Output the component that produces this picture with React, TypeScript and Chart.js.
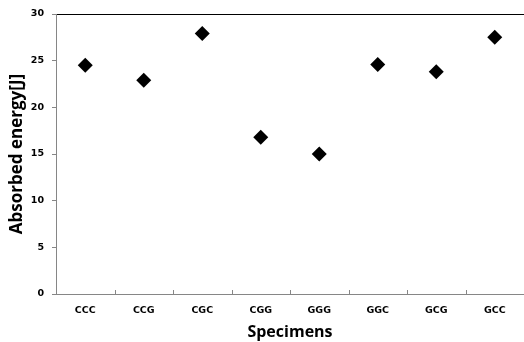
import React, { useEffect, useRef } from "react";
import { Chart, registerables } from "chart.js";

Chart.register(...registerables);

const categories = ["CCC", "CCG", "CGC", "CGG", "GGG", "GGC", "GCG", "GCC"];
const absorbedEnergy = [24.5, 22.9, 27.9, 16.8, 15.0, 24.6, 23.8, 27.5];
const yTicks = [0, 5, 10, 15, 20, 25, 30];

const innerTicks = {
  id: "innerTicks",
  afterDraw(chart: any) {
    const xs = chart.scales.x;
    const ctx = chart.ctx;
    ctx.save();
    ctx.strokeStyle = "#868686";
    ctx.lineWidth = 1;
    for (let i = 0; i <= categories.length; i++) {
      const px = Math.round(xs.getPixelForValue(i - 0.5)) + 0.5;
      ctx.beginPath();
      ctx.moveTo(px, xs.top);
      ctx.lineTo(px, xs.top - 4);
      ctx.stroke();
    }
    ctx.restore();
  },
};

export default function App() {
  const ref = useRef<HTMLCanvasElement>(null);
  useEffect(() => {
    const chart = new Chart(ref.current!, {
      type: "line",
      data: {
        labels: categories,
        datasets: [
          {
            data: absorbedEnergy,
            showLine: false,
            pointStyle: "rectRot",
            pointRadius: 7.5,
            pointHoverRadius: 7.5,
            pointBackgroundColor: "#000",
            pointBorderColor: "#000",
            pointBorderWidth: 0,
          },
        ],
      },
      options: {
        animation: false,
        responsive: true,
        maintainAspectRatio: false,
        layout: { autoPadding: false, padding: { top: 14, right: 0, left: 0, bottom: 0 } },
        plugins: { legend: { display: false }, tooltip: { enabled: false } },
        scales: {
          x: {
            offset: true,
            afterFit: (s: any) => {
              s.height = 48;
              s.paddingLeft = 0;
              s.paddingRight = 0;
            },
            grid: { display: true, drawOnChartArea: false, drawTicks: false, offset: true },
            border: { display: true, color: "#868686", width: 1 },
            ticks: {
              color: "#000",
              padding: 11,
              maxRotation: 0,
              font: { family: "'DejaVu Sans'", size: 9.5, weight: "bold" },
            },
            title: {
              display: true,
              text: "Specimens",
              color: "#000",
              padding: { top: 0, bottom: 0 },
              font: { family: "'Open Sans'", size: 16, weight: "bold", lineHeight: 1.2 },
            },
          },
          y: {
            min: 0,
            max: 30,
            afterFit: (s: any) => {
              s.width = 56;
            },
            afterBuildTicks: (s: any) => {
              s.ticks = yTicks.map((v) => ({ value: v }));
            },
            grid: {
              color: (c: any) => (c.tick && c.tick.value === 30 ? "#000" : "transparent"),
              tickColor: "#868686",
              tickLength: 4,
              lineWidth: 1,
            },
            border: { display: true, color: "#868686", width: 1 },
            ticks: {
              color: "#000",
              padding: 8,
              font: { family: "'DejaVu Sans'", size: 9.5, weight: "bold" },
            },
            title: {
              display: true,
              text: "Absorbed energy[J]",
              color: "#000",
              padding: { top: 7, bottom: 0 },
              font: { family: "'Open Sans'", size: 17, weight: "bold", lineHeight: 1.2 },
            },
          },
        },
      },
      plugins: [innerTicks],
    });
    return () => chart.destroy();
  }, []);
  return (
    <div style={{ position: "fixed", left: 0, top: 0, width: 524, height: 342, background: "#fff" }}>
      <canvas ref={ref} />
    </div>
  );
}
